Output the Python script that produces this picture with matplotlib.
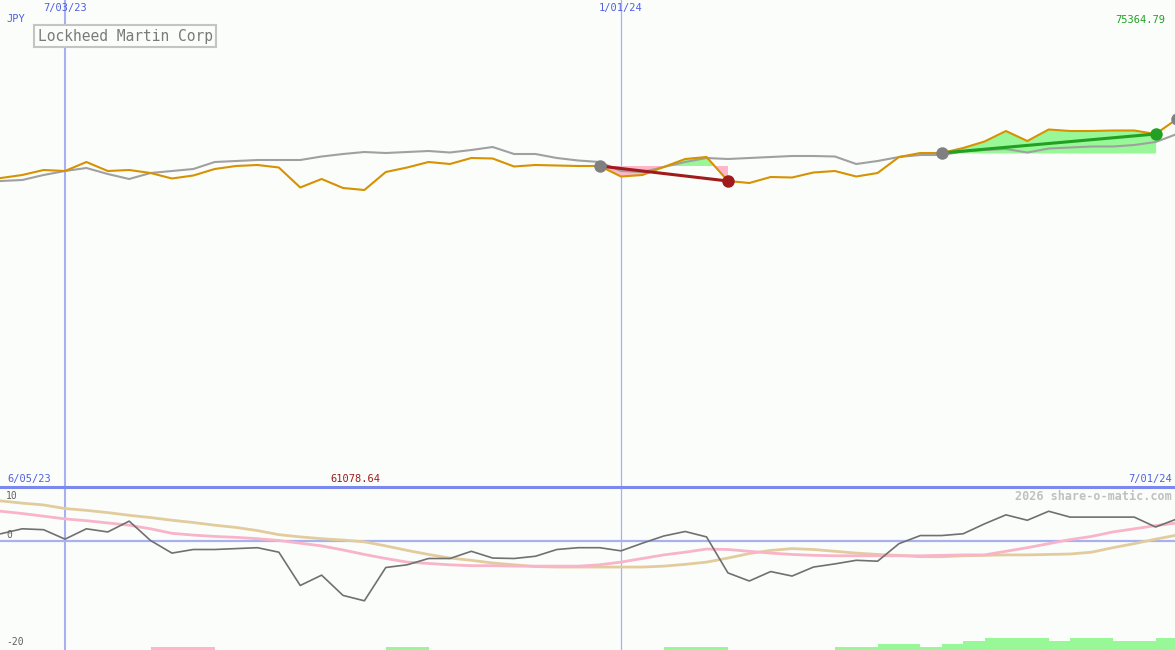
import numpy as np
import pandas as pd
import matplotlib
matplotlib.use('Agg')
import matplotlib.pyplot as plt
from matplotlib import transforms

W, H = 1175, 650
BG = '#fbfdfb'

# weekly data, JPY
dates = pd.date_range('2023-06-12', periods=56, freq='7D')

price = [63493, 64097, 65103, 64902, 66712, 64902, 65103, 64499, 63393, 63996,
         65304, 65908, 66109, 65606, 61582, 63292, 61481, 61078.64, 64700, 65606,
         66712, 66310, 67517, 67417, 65807, 66109, 66008, 65908, 65908, 63795,
         64097, 65706, 67316, 67719, 62889, 62487, 63694, 63594, 64600, 64902,
         63795, 64499, 67719, 68523, 68523, 69530, 70837, 72950, 70938, 73252,
         72950, 72950, 73051, 73051, 72346, 75364.79]

index_line = [62889, 63091, 64097, 64902, 65505, 64298, 63292, 64499, 64902, 65304,
              66712, 66913, 67115, 67115, 67115, 67819, 68322, 68724, 68523, 68724,
              68926, 68624, 69127, 69730, 68322, 68322, 67517, 67014, 66712, 64902,
              64700, 65706, 66712, 67517, 67316, 67517, 67719, 67920, 67920, 67819,
              66310, 66913, 67719, 68121, 68121, 68825, 69127, 69328, 68624, 69429,
              69630, 69831, 69831, 70133, 70736, 72346]

osc = [1.5, 2.6, 2.4, 0.3, 2.6, 1.9, 4.3, 0.0, -2.8, -2.0,
       -2.0, -1.8, -1.6, -2.6, -10.0, -7.7, -12.2, -13.4, -6.0, -5.4,
       -4.0, -4.0, -2.4, -3.9, -4.0, -3.5, -2.0, -1.6, -1.6, -2.3,
       -0.6, 1.0, 2.0, 0.8, -7.2, -9.0, -6.9, -7.9, -5.9, -5.2,
       -4.4, -4.6, -0.7, 1.1, 1.1, 1.5, 3.7, 5.7, 4.5, 6.5,
       5.2, 5.2, 5.2, 5.2, 3.0, 4.8]

osc_fast = [6.5, 6.0, 5.4, 4.8, 4.4, 3.9, 3.4, 2.6, 1.6, 1.2,
            0.9, 0.7, 0.4, 0.0, -0.6, -1.2, -2.1, -3.1, -4.0, -4.8,
            -5.1, -5.4, -5.6, -5.6, -5.7, -5.7, -5.7, -5.7, -5.4, -4.8,
            -4.0, -3.2, -2.6, -1.9, -2.0, -2.4, -2.8, -3.1, -3.3, -3.4,
            -3.4, -3.4, -3.4, -3.4, -3.3, -3.2, -3.2, -2.4, -1.6, -0.7,
            0.2, 0.9, 1.9, 2.6, 3.3, 3.9]

osc_slow = [8.8, 8.3, 7.9, 7.1, 6.7, 6.2, 5.6, 5.1, 4.5, 4.0,
            3.4, 2.9, 2.2, 1.3, 0.8, 0.4, 0.1, -0.3, -1.2, -2.2,
            -3.1, -3.9, -4.4, -5.0, -5.4, -5.8, -5.9, -5.9, -5.9, -5.9,
            -5.9, -5.7, -5.3, -4.8, -3.9, -2.9, -2.2, -1.8, -2.0, -2.4,
            -2.8, -3.1, -3.3, -3.6, -3.6, -3.4, -3.3, -3.2, -3.2, -3.1,
            -3.0, -2.6, -1.6, -0.7, 0.3, 1.2]

# signal strength bars (negative = pink, positive = green)
signal = [0, 0, 0, 0, 0, 0, 0, -1, -1, -1,
          0, 0, 0, 0, 0, 0, 0, 0, 1, 1,
          0, 0, 0, 0, 0, 0, 0, 0, 0, 0,
          0, 1, 1, 1, 0, 0, 0, 0, 0, 1,
          1, 2, 2, 1, 2, 3, 4, 4, 4, 3,
          4, 4, 3, 3, 4, 4]

trades = [(28, 34), (44, 54)]
open_entry = 55

vlines = ['2023-07-03', '2024-01-01']

price = np.array(price)
index_line = np.array(index_line)

ORANGE = '#d69200'
GREY = '#a0a0a0'
BLUE = '#5060e0'
VL = '#a8b0f0'
PINK_FILL = '#ffb6c8'
GREEN_FILL = '#98f898'
RED = '#a01c1c'
GREEN = '#22a022'
MONO = 'DejaVu Sans Mono'

fig = plt.figure(figsize=(W / 100, H / 100), dpi=100, facecolor=BG)
ax = fig.add_axes([0, 163 / H, 1, 487 / H])
ax2 = fig.add_axes([0, 0, 1, 163 / H])
axb = ax2.twinx()

# x scale: 7/03/23 at px 65, 1/01/24 at px 621
d1, d2 = pd.Timestamp(vlines[0]), pd.Timestamp(vlines[1])
px_day = (621 - 65) / (d2 - d1).days
left = d1 - pd.Timedelta(days=65 / px_day)
right = d2 + pd.Timedelta(days=(W - 621) / px_day)

for a in (ax, ax2, axb):
    a.set_xlim(left, right)
    a.set_xticks([])
    a.set_yticks([])
    for s in a.spines.values():
        s.set_visible(False)
ax.set_facecolor(BG)
ax2.set_facecolor(BG)

# top panel y scale: max at px 119, min at px 190
lo, hi = price.min(), price.max()
per_px = (hi - lo) / 71
ax.set_ylim(lo - (487 - 190) * per_px, hi + 119 * per_px)

for d, lw in zip(vlines, (1.5, 0.9)):
    ax.axvline(pd.Timestamp(d), color=VL, lw=lw, zorder=1)
    ax2.axvline(pd.Timestamp(d), color=VL, lw=lw, zorder=1)

# trade fills
for i, j in trades:
    xs = dates[i:j + 1]
    ys = price[i:j + 1]
    lvl = price[i]
    ax.fill_between(xs, lvl, ys, where=ys >= lvl, interpolate=True, color=GREEN_FILL, lw=0, zorder=2)
    ax.fill_between(xs, lvl, ys, where=ys <= lvl, interpolate=True, color=PINK_FILL, lw=0, zorder=2)

ax.plot(dates, index_line, color=GREY, lw=1.5, zorder=3)
ax.plot(dates, price, color=ORANGE, lw=1.5, zorder=4)

for i, j in trades:
    c = GREEN if price[j] > price[i] else RED
    ax.plot([dates[i], dates[j]], [price[i], price[j]], color=c, lw=2.2, zorder=5)
    ax.plot(dates[i], price[i], 'o', color='#808080', ms=9, mew=0, zorder=6)
    ax.plot(dates[j], price[j], 'o', color=c, ms=9, mew=0, zorder=6)
ax.plot(dates[open_entry], price[open_entry], 'o', color='#808080', ms=9, mew=0, zorder=6, clip_on=False)

# bottom panel: 0 at px 53.5 below its top, 4.5 px per unit
ax2.set_ylim(-(163 - 53.5) / 4.5, 53.5 / 4.5)
ax2.axhline(0, color=VL, lw=1.6, zorder=1)
ax2.plot(dates, osc_slow, color='#e2cc9e', lw=2.0, zorder=2)
ax2.plot(dates, osc_fast, color='#f8b4c8', lw=2.0, zorder=3)
ax2.plot(dates, osc, color='#707070', lw=1.2, zorder=4)
ax2.spines['top'].set_visible(True)
ax2.spines['top'].set_color('#7b88ee')
ax2.spines['top'].set_linewidth(2.2)

axb.set_ylim(0, 163 / 3)
sig = np.array(signal)
axb.bar(dates, np.abs(sig), width=7, align='edge',
        color=[PINK_FILL if v < 0 else GREEN_FILL for v in sig], lw=0)

def px(x, y):
    return x / W, 1 - y / H

# texts
tr_top = transforms.blended_transform_factory(ax.transData, fig.transFigure)
for d in vlines:
    ts = pd.Timestamp(d)
    ax.text(ts, px(0, 8)[1], f'{ts.month}/{ts.day:02d}/{ts.year % 100}', transform=tr_top,
            ha='center', va='center', color=BLUE, family=MONO, fontsize=7.5, clip_on=False)

fig.text(*px(6, 19), 'JPY', ha='left', va='center', color=BLUE, family=MONO, fontsize=7.5)
fig.text(*px(1165, 20), f'{hi:.2f}', ha='right', va='center', color=GREEN, family=MONO, fontsize=7.5)
fig.text(*px(125, 36), 'Lockheed Martin Corp', ha='center', va='center', color='#7a7a7a',
         family=MONO, fontsize=10.5,
         bbox=dict(boxstyle='square,pad=0.25', fc=BG, ec='#c4c4c4', lw=1.5))

start = dates[0] - pd.Timedelta(days=7)
fig.text(*px(7, 479), f'{start.month}/{start.day:02d}/{start.year % 100}', ha='left', va='center',
         color=BLUE, family=MONO, fontsize=7.5)
fig.text(*px(355, 479), f'{lo:.2f}', ha='center', va='center', color=RED, family=MONO, fontsize=7.5)
end = dates[-1]
fig.text(*px(1172, 479), f'{end.month}/{end.day:02d}/{end.year % 100}', ha='right', va='center',
         color=BLUE, family=MONO, fontsize=7.5)
fig.text(*px(1172, 496), '2026 share-o-matic.com', ha='right', va='center', color='#c0c0c0',
         family=MONO, fontsize=8.5, fontweight='bold')
fig.text(*px(6, 496), '10', ha='left', va='center', color='#606060', family=MONO, fontsize=7)
fig.text(*px(6, 535), '0', ha='left', va='center', color='#606060', family=MONO, fontsize=7)
fig.text(*px(6, 642), '-20', ha='left', va='center', color='#606060', family=MONO, fontsize=7)

fig.savefig('out.png', dpi=100, facecolor=BG)
